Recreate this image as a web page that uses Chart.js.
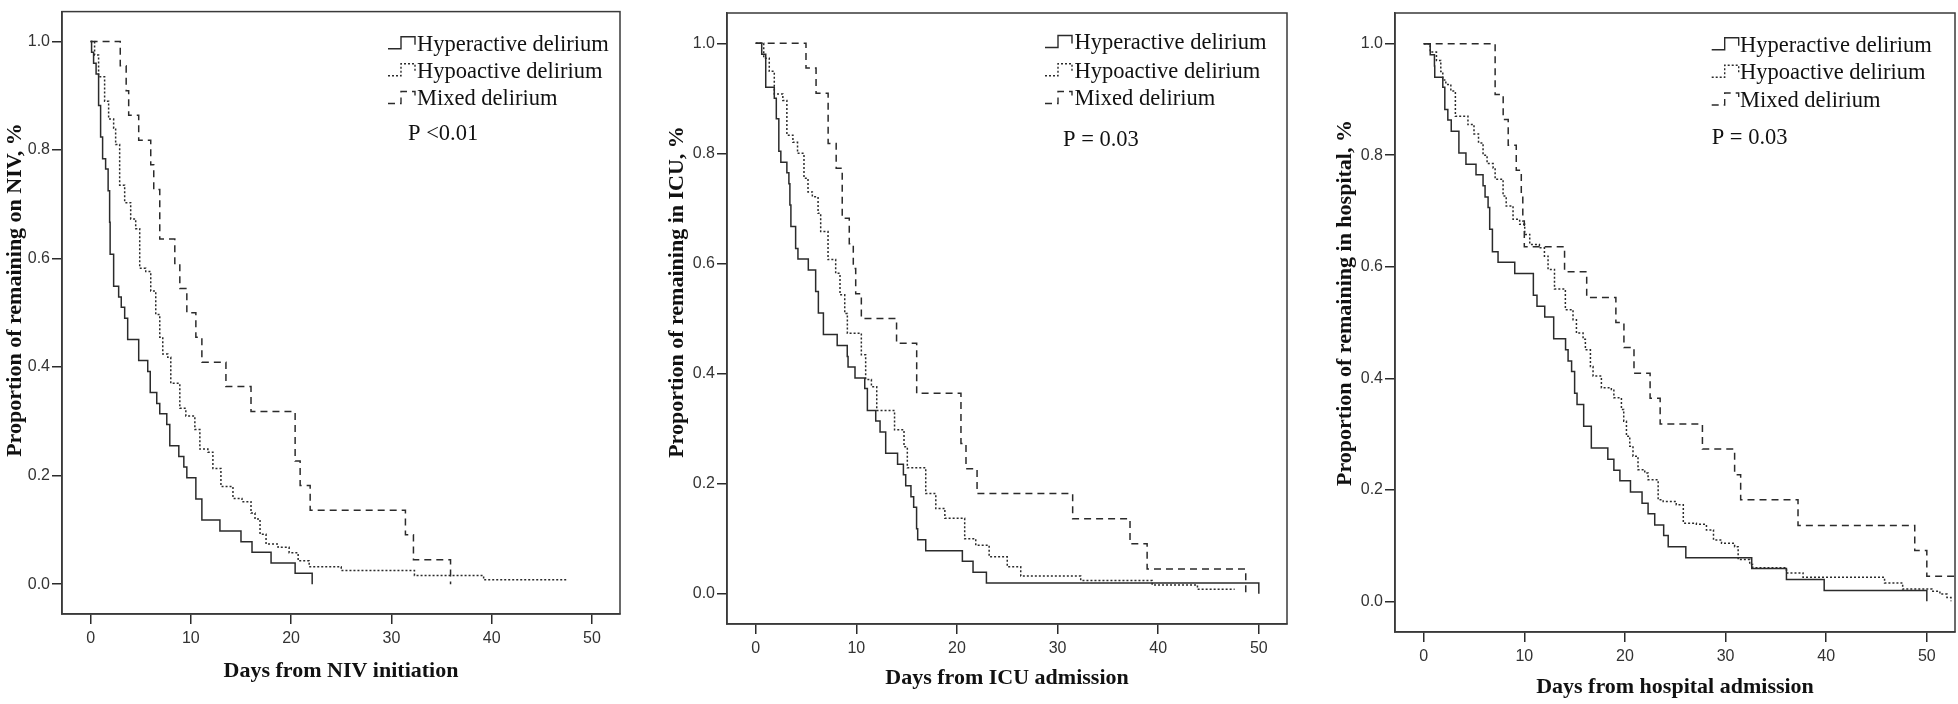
<!DOCTYPE html>
<html>
<head>
<meta charset="utf-8">
<script src="https://cdn.jsdelivr.net/npm/chart.js@4.4.1/dist/chart.umd.min.js"></script>
<style>
html, body { margin: 0; padding: 0; background: #fff; width: 1958px; height: 704px; overflow: hidden; }
canvas { position: absolute; top: 0; }
</style>
</head>
<body>
<canvas id="niv" width="640" height="704" style="left:0px"></canvas>
<canvas id="icu" width="650" height="704" style="left:660px"></canvas>
<canvas id="hosp" width="638" height="704" style="left:1320px"></canvas>
<script>
const groups = ['Hyperactive delirium', 'Hypoactive delirium', 'Mixed delirium'];
const xTicks = [0, 10, 20, 30, 40, 50];
const yTicks = [0, 0.2, 0.4, 0.6, 0.8, 1.0];

// [day, proportion remaining]
const nivHyper = [[0,1],[0.1,0.98],[0.3,0.96],[0.55,0.94],[0.8,0.882],[1.0,0.824],[1.2,0.784],[1.5,0.765],[1.75,0.725],[1.9,0.667],[1.95,0.608],[2.3,0.549],[2.8,0.529],[3.06,0.51],[3.4,0.49],[3.7,0.451],[4.8,0.412],[5.7,0.392],[5.95,0.353],[6.6,0.333],[6.9,0.314],[7.6,0.294],[7.9,0.255],[8.8,0.235],[9.3,0.216],[9.6,0.196],[10.5,0.157],[11.1,0.118],[12.9,0.098],[15.0,0.078],[16.1,0.059],[18.0,0.039],[20.4,0.02],[22.1,0]];
const nivHypo = [[0,1],[0.4,0.975],[0.8,0.935],[1.4,0.89],[1.8,0.857],[2.3,0.84],[2.5,0.81],[2.9,0.735],[3.4,0.703],[4.0,0.673],[4.5,0.655],[4.9,0.582],[5.5,0.576],[6.0,0.54],[6.5,0.497],[6.9,0.455],[7.2,0.424],[7.7,0.418],[8.0,0.37],[8.9,0.324],[9.5,0.31],[10.4,0.285],[10.9,0.249],[11.7,0.243],[12.2,0.213],[13.0,0.18],[14.2,0.158],[15.1,0.152],[16.0,0.131],[16.4,0.12],[16.9,0.092],[17.5,0.074],[18.7,0.068],[19.8,0.058],[20.7,0.043],[21.8,0.032],[25.0,0.025],[32.3,0.016],[39.2,0.008],[47.6,0.008]];
const nivMixed = [[0,1],[2.96,0.955],[3.55,0.909],[3.8,0.864],[4.8,0.818],[6.0,0.773],[6.3,0.727],[6.9,0.636],[8.4,0.591],[8.9,0.545],[9.6,0.5],[10.5,0.455],[11.1,0.409],[13.5,0.364],[16.0,0.318],[20.4,0.227],[20.9,0.182],[21.9,0.136],[31.4,0.091],[32.2,0.045],[35.9,0]];

const icuHyper = [[0,1],[0.6,0.98],[1.0,0.92],[1.85,0.9],[2.05,0.863],[2.3,0.804],[2.5,0.784],[3.1,0.765],[3.3,0.745],[3.4,0.706],[3.5,0.667],[3.97,0.627],[4.2,0.608],[5.23,0.588],[5.96,0.549],[6.23,0.51],[6.73,0.471],[8.1,0.451],[9.1,0.431],[9.18,0.412],[9.87,0.392],[10.84,0.373],[11.1,0.333],[11.93,0.314],[12.36,0.294],[12.92,0.255],[14.1,0.235],[14.68,0.216],[14.91,0.196],[15.43,0.176],[15.7,0.157],[15.99,0.118],[16.1,0.098],[16.9,0.078],[20.54,0.059],[21.6,0.039],[22.93,0.0196],[50,0.0196],[50,0]];
const icuHypo = [[0,1],[0.8,0.973],[1.35,0.949],[1.85,0.908],[2.7,0.896],[3.1,0.833],[3.7,0.82],[4.16,0.8],[4.8,0.755],[5.2,0.73],[5.63,0.721],[6.2,0.691],[6.46,0.658],[7.19,0.607],[7.95,0.582],[8.38,0.543],[8.85,0.509],[9.11,0.473],[10.5,0.434],[10.93,0.389],[11.5,0.376],[12.03,0.333],[13.8,0.298],[14.74,0.267],[15.07,0.229],[16.9,0.182],[17.9,0.155],[18.8,0.137],[20.77,0.1],[21.87,0.088],[23.2,0.067],[25.0,0.049],[26.34,0.032],[32.3,0.024],[39.4,0.016],[43.9,0.008],[47.6,0.008]];
const icuMixed = [[0,1],[5.0,0.955],[6.0,0.909],[7.2,0.818],[8.0,0.773],[8.6,0.682],[9.3,0.636],[9.7,0.591],[9.94,0.545],[10.5,0.5],[14.0,0.455],[16.0,0.364],[20.4,0.273],[20.9,0.227],[22.0,0.182],[31.5,0.136],[37.2,0.091],[38.9,0.045],[48.7,0.045],[48.7,0]];

const hospHyper = [[0,1],[0.65,0.98],[1.07,0.96],[1.1,0.94],[1.9,0.922],[2.1,0.882],[2.4,0.863],[2.74,0.843],[3.5,0.804],[4.2,0.784],[5.2,0.765],[5.9,0.745],[6.1,0.725],[6.4,0.706],[6.56,0.667],[6.83,0.627],[7.39,0.608],[9.05,0.588],[10.9,0.549],[11.26,0.529],[12.03,0.51],[12.92,0.471],[14.1,0.451],[14.35,0.431],[14.7,0.412],[15.0,0.373],[15.24,0.353],[15.9,0.314],[16.66,0.275],[18.3,0.255],[18.9,0.235],[19.5,0.216],[20.55,0.196],[21.7,0.176],[22.3,0.157],[22.96,0.137],[23.85,0.118],[24.3,0.098],[26.05,0.078],[32.6,0.059],[36.05,0.039],[39.8,0.0196],[50,0.0196],[50,0]];
const hospHypo = [[0,1],[0.65,0.985],[1.27,0.97],[1.7,0.95],[1.9,0.935],[2.2,0.927],[2.7,0.915],[3.15,0.87],[4.4,0.855],[5.0,0.838],[5.45,0.822],[5.9,0.8],[6.3,0.785],[6.9,0.777],[7.1,0.757],[7.89,0.727],[8.2,0.709],[8.88,0.685],[9.54,0.676],[10.04,0.658],[10.54,0.64],[11.5,0.634],[12.0,0.619],[12.36,0.595],[13.0,0.56],[14.08,0.523],[14.84,0.505],[15.18,0.481],[15.84,0.47],[16.07,0.451],[16.57,0.421],[16.83,0.404],[17.66,0.383],[18.65,0.38],[18.9,0.365],[19.65,0.344],[19.88,0.323],[20.15,0.296],[20.48,0.278],[20.8,0.26],[21.3,0.236],[21.97,0.23],[22.3,0.218],[23.3,0.182],[23.8,0.179],[25.1,0.173],[25.8,0.14],[27.1,0.138],[28.1,0.128],[28.8,0.11],[29.6,0.104],[30.9,0.098],[31.25,0.075],[32.4,0.066],[32.7,0.06],[36.05,0.051],[37.7,0.043],[45.8,0.033],[47.6,0.022],[50.5,0.018],[51.3,0.013],[52.0,0.007],[52.4,0]];
const hospMixed = [[0,1],[7.1,0.909],[7.9,0.864],[8.4,0.818],[9.2,0.773],[9.7,0.727],[9.85,0.682],[10.0,0.636],[14.0,0.591],[16.2,0.545],[19.1,0.5],[19.9,0.455],[20.9,0.409],[22.5,0.364],[23.5,0.318],[27.7,0.273],[30.9,0.227],[31.5,0.182],[37.2,0.136],[48.8,0.091],[50.0,0.045],[52.8,0.045]];

const ink = '#2b2b2b';
const dashes = [[], [2, 2], [7, 5]];
const serif = '"Liberation Serif", "Times New Roman", serif';

// frame round the plot, y title, legend with step symbols, p value
const kmLegend = {
  id: 'kmLegend',
  afterDraw(chart, args, opts) {
    const ctx = chart.ctx, a = chart.chartArea;
    ctx.save();
    ctx.strokeStyle = '#3a3a3a';
    ctx.lineWidth = 1.5;
    ctx.strokeRect(a.left, a.top, a.right - a.left, a.bottom - a.top);

    ctx.save();
    ctx.translate(opts.yTitleX, opts.yTitleY);
    ctx.rotate(-Math.PI / 2);
    ctx.font = 'bold 22px ' + serif;
    ctx.fillStyle = '#111';
    ctx.textAlign = 'center';
    ctx.textBaseline = 'middle';
    ctx.fillText(opts.yTitle, 0, 0);
    ctx.restore();

    ctx.font = '22.5px ' + serif;
    ctx.fillStyle = '#111';
    ctx.textBaseline = 'middle';
    chart.data.datasets.forEach((ds, i) => {
      const y = opts.rows[i], x0 = opts.symX;
      ctx.setLineDash(ds.borderDash);
      ctx.lineWidth = 1.4;
      ctx.strokeStyle = ink;
      ctx.beginPath();
      ctx.moveTo(x0, y + 4);
      ctx.lineTo(x0 + 13, y + 4);
      ctx.lineTo(x0 + 13, y - 8);
      ctx.lineTo(x0 + 27, y - 8);
      ctx.lineTo(x0 + 27, y);
      ctx.stroke();
      ctx.setLineDash([]);
      ctx.fillText(ds.label, opts.textX, y);
    });
    ctx.fillText(opts.p, opts.pX, opts.pY);
    ctx.restore();
  }
};

function makeChart(id, series, cfg) {
  return new Chart(document.getElementById(id), {
    type: 'line',
    data: {
      datasets: series.map((pts, i) => ({
        label: groups[i],
        data: pts.map(p => ({x: p[0], y: p[1]})),
        stepped: 'before',
        borderColor: ink,
        borderWidth: 1.5,
        borderDash: dashes[i],
        pointRadius: 0,
        fill: false
      }))
    },
    options: {
      responsive: false,
      animation: false,
      layout: {padding: cfg.pad},
      plugins: {legend: {display: false}, tooltip: {enabled: false}, kmLegend: cfg.legend},
      scales: {
        x: {
          type: 'linear', min: -2.85, max: 52.8,
          afterBuildTicks: s => { s.ticks = xTicks.map(v => ({value: v})); },
          afterFit: s => { s.height = cfg.xH; },
          grid: {drawOnChartArea: false, drawTicks: true, tickLength: 10, color: ink, lineWidth: 1.5},
          border: {color: '#3a3a3a', width: 1.5},
          ticks: {font: {family: '"Liberation Sans", Arial, sans-serif', size: 16}, color: '#333', padding: 5, maxRotation: 0, autoSkip: false},
          title: {display: true, text: cfg.xTitle, color: '#111', font: {family: serif, size: 22, weight: 'bold'}, padding: {top: 0, bottom: cfg.xTitlePad}}
        },
        y: {
          type: 'linear', min: -0.055, max: 1.055,
          afterBuildTicks: s => { s.ticks = yTicks.map(v => ({value: v})); },
          afterFit: s => { s.width = cfg.yW; },
          grid: {drawOnChartArea: false, drawTicks: true, tickLength: 10, color: ink, lineWidth: 1.5},
          border: {color: '#3a3a3a', width: 1.5},
          ticks: {font: {family: '"Liberation Sans", Arial, sans-serif', size: 16}, color: '#333', padding: 2, callback: v => v.toFixed(1)}
        }
      }
    },
    plugins: [kmLegend]
  });
}

makeChart('niv', [nivHyper, nivHypo, nivMixed], {
  pad: {top: 3, right: 20, bottom: 0, left: 0}, xH: 90, yW: 62, xTitlePad: 19,
  xTitle: 'Days from NIV initiation',
  legend: {yTitle: 'Proportion of remaining on NIV, %', yTitleX: 15, yTitleY: 290,
    symX: 388, textX: 417, rows: [44.8, 71.7, 99.5], p: 'P <0.01', pX: 408, pY: 133.6}
});
makeChart('icu', [icuHyper, icuHypo, icuMixed], {
  pad: {top: 13, right: 23, bottom: 0, left: 0}, xH: 80, yW: 67, xTitlePad: 12,
  xTitle: 'Days from ICU admission',
  legend: {yTitle: 'Proportion of remaining in ICU, %', yTitleX: 17, yTitleY: 292,
    symX: 385, textX: 414.6, rows: [43.5, 71.7, 99.5], p: 'P = 0.03', pX: 403, pY: 140}
});
makeChart('hosp', [hospHyper, hospHypo, hospMixed], {
  pad: {top: 13, right: 3, bottom: 0, left: 0}, xH: 72, yW: 75, xTitlePad: 3,
  xTitle: 'Days from hospital admission',
  legend: {yTitle: 'Proportion of remaining in hospital, %', yTitleX: 25, yTitleY: 303,
    symX: 391.7, textX: 420, rows: [45.7, 73.3, 101], p: 'P = 0.03', pX: 391.7, pY: 137.7}
});
</script>
</body>
</html>
